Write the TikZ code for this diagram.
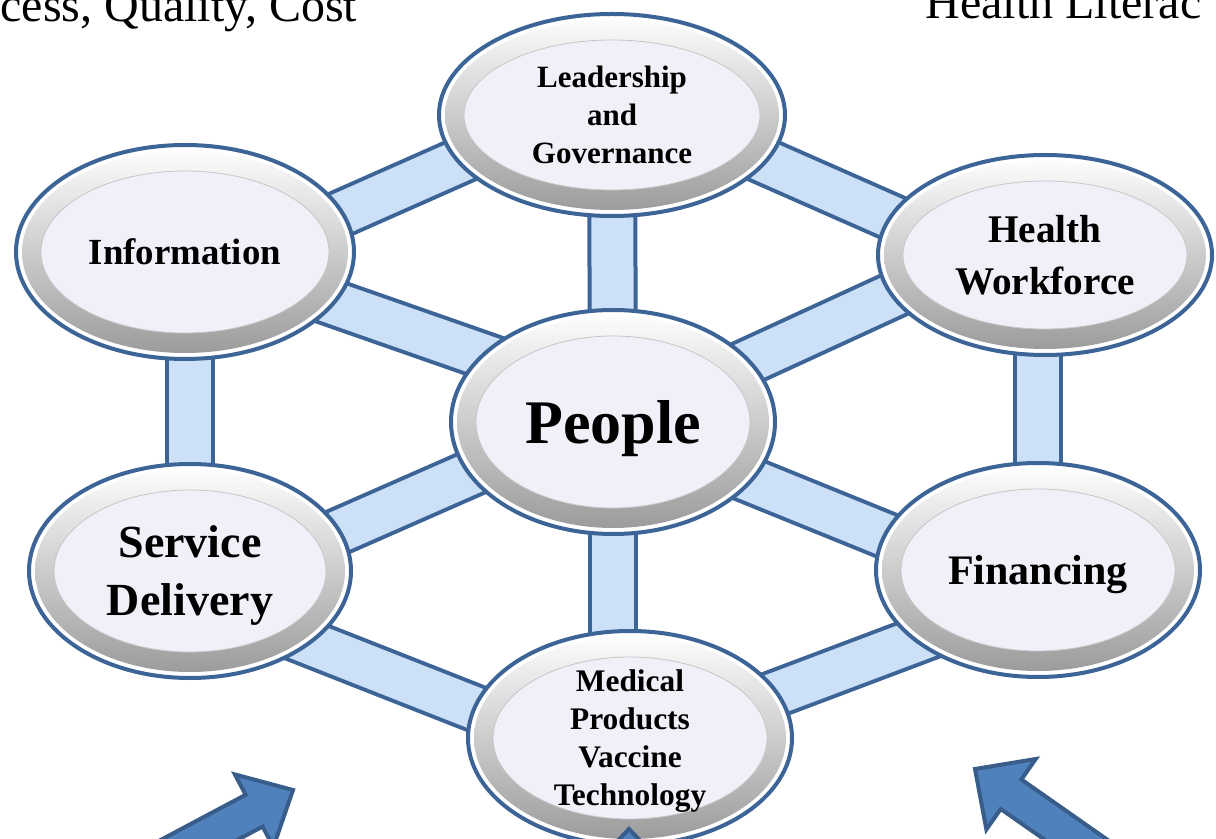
\documentclass[tikz,border=0pt]{standalone}
\usepackage{fontspec}
\setmainfont{Liberation Serif}
\usepackage{tikz}
\usetikzlibrary{calc,backgrounds,shapes.geometric}
\definecolor{ringblue}{RGB}{60,100,150}
\definecolor{barfill}{RGB}{204,224,247}
\definecolor{innerfill}{RGB}{242,239,248}
\definecolor{arrowfill}{RGB}{79,129,189}
\definecolor{arrowline}{RGB}{56,93,138}
\tikzset{
  hsnode/.style={ellipse, draw=ringblue, line width=2pt, fill=white, inner sep=0pt, align=center, text depth=0pt,
    path picture={
      \shade[top color=white, middle color=gray!12, bottom color=gray!80]
        let \p1=($(path picture bounding box.north east)-(path picture bounding box.center)$) in
        (path picture bounding box.center) ellipse ({\x1-3pt} and {\y1-3pt});
      \filldraw[fill=innerfill, draw=gray!45, line width=0.4pt]
        let \p1=($(path picture bounding box.north east)-(path picture bounding box.center)$) in
        (path picture bounding box.center) ellipse ({\x1-12.5pt} and {\y1-13pt});
    }},
  hsbar/.style={draw=ringblue, line width=2pt, double=barfill, double distance=21pt,
    shorten <=-25pt, shorten >=-25pt},
  hsarrow/.style={fill=arrowfill, draw=arrowline, line width=2pt, line join=miter}
}

\begin{document}
\begin{tikzpicture}[x=0.5pt, y=-0.5pt]
\useasboundingbox (0,0) rectangle (1216,839);
\clip (0,0) rectangle (1216,839);

\node[anchor=base west, inner sep=0pt, font=\fontsize{24}{28}\selectfont] (access) at (0,22) {cess, Quality, Cost};
\node[anchor=base west, inner sep=0pt, font=\fontsize{24}{28}\selectfont] (literacy) at (925,19) {Health Literac};

\node[hsnode, minimum width=173pt, minimum height=101pt, font=\bfseries\fontsize{15.5}{19}\selectfont] (lead) at (612,115) {Leadership\\and\\Governance};
\node[hsnode, minimum width=169pt, minimum height=107pt, font=\bfseries\fontsize{18.4}{22}\selectfont] (info) at (185,252) {Information};
\node[hsnode, minimum width=167pt, minimum height=100pt, font=\bfseries\fontsize{19.6}{26}\selectfont] (hw) at (1045,255) {Health\\Workforce};
\node[hsnode, minimum width=162pt, minimum height=112pt, font=\bfseries\fontsize{31}{36}\selectfont] (people) at (613,422) {People};
\node[hsnode, minimum width=161pt, minimum height=107pt, font=\bfseries\fontsize{23}{29}\selectfont] (service) at (190,571) {Service\\Delivery};
\node[hsnode, minimum width=162pt, minimum height=107pt, font=\bfseries\fontsize{21}{25}\selectfont] (fin) at (1038,570) {Financing};
\node[hsnode, minimum width=162pt, minimum height=107pt, font=\bfseries\fontsize{15.7}{19}\selectfont] (med) at (630,738) {Medical\\Products\\Vaccine\\Technology};

% connecting bars
\begin{scope}[on background layer]
\draw[hsbar] (info.14) -- (lead.197);
\draw[hsbar] (lead.-17) -- (hw.166);
\draw[hsbar] (info.-19) -- (people.153);
\draw[hsbar] (hw.195) -- (people.24);
\draw[hsbar] (service.15) -- (people.200);
\draw[hsbar] (people.-23) -- (fin.167);
\draw[hsbar] (service.-31) -- (med.169);
\draw[hsbar] (fin.210) -- (med.17);
\draw[hsbar] (lead) -- (people);
\draw[hsbar] (people) -- (people |- med);
\draw[hsbar] (service |- info) -- (service);
\draw[hsbar] (fin |- hw) -- (fin);
\end{scope}

% block arrows
\draw[hsarrow, shift={(293,790)}, rotate=28] (0,0) -- (-44,-41) -- (-44,-18) -- (-240,-18) -- (-240,18) -- (-44,18) -- (-44,41) -- cycle;
\draw[hsarrow, shift={(975,769)}, rotate=145] (0,0) -- (-44,-43) -- (-44,-18) -- (-240,-18) -- (-240,18) -- (-44,18) -- (-44,43) -- cycle;
\draw[hsarrow, shift={(629,829)}, rotate=90] (0,0) -- (-44,-42) -- (-44,-18) -- (-240,-18) -- (-240,18) -- (-44,18) -- (-44,42) -- cycle;
\end{tikzpicture}
\end{document}
